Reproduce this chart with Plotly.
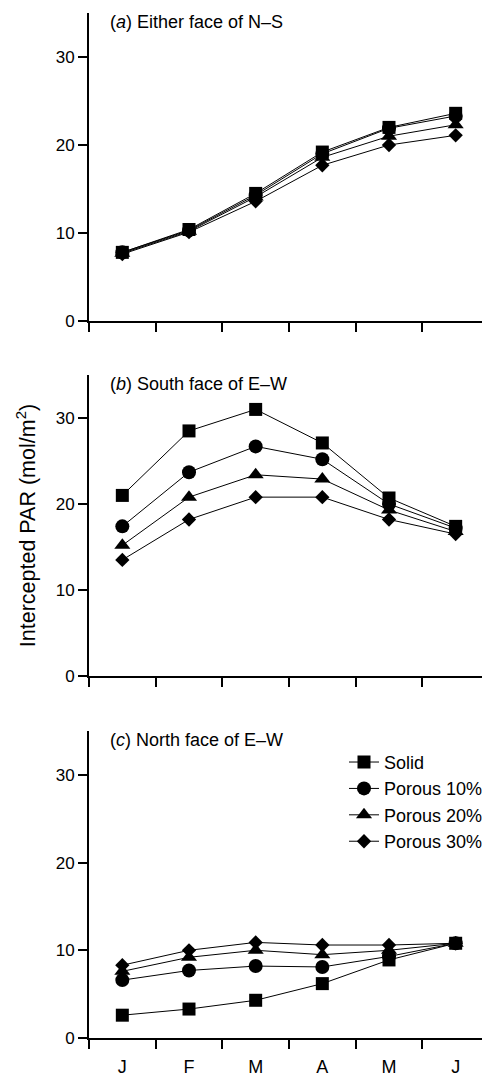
import plotly.graph_objects as go

months = ["J", "F", "M", "A", "M", "J"]
series_names = ["Solid", "Porous 10%", "Porous 20%", "Porous 30%"]
symbols = ["square", "circle", "triangle-up", "diamond"]

# Panel (a) Either face of N–S
a_solid = [7.8, 10.4, 14.5, 19.2, 22.0, 23.6]
a_p10 = [7.8, 10.3, 14.3, 19.0, 21.9, 23.3]
a_p20 = [7.7, 10.2, 14.1, 18.6, 21.0, 22.3]
a_p30 = [7.6, 10.1, 13.6, 17.7, 20.0, 21.1]

# Panel (b) South face of E–W
b_solid = [21.0, 28.5, 31.0, 27.1, 20.7, 17.4]
b_p10 = [17.4, 23.7, 26.7, 25.2, 20.0, 17.2]
b_p20 = [15.2, 20.8, 23.4, 22.9, 19.3, 16.8]
b_p30 = [13.5, 18.2, 20.8, 20.8, 18.2, 16.5]

# Panel (c) North face of E–W
c_solid = [2.6, 3.3, 4.3, 6.2, 8.9, 10.8]
c_p10 = [6.6, 7.7, 8.2, 8.1, 9.3, 10.8]
c_p20 = [7.6, 9.2, 10.0, 9.5, 10.0, 10.8]
c_p30 = [8.3, 10.0, 10.9, 10.6, 10.6, 10.8]

panels = [
    ("(<i>a</i>) Either face of N–S", [a_solid, a_p10, a_p20, a_p30]),
    ("(<i>b</i>) South face of E–W", [b_solid, b_p10, b_p20, b_p30]),
    ("(<i>c</i>) North face of E–W", [c_solid, c_p10, c_p20, c_p30]),
]

xpos = [i + 0.5 for i in range(len(months))]
domains = [[0.6995, 1.0], [0.3532, 0.6468], [0.0, 0.2995]]
msizes = [13, 14, 14, 11]

FONT = "Liberation Sans, Arial, Helvetica, sans-serif"
fig = go.Figure()

for p, (title, data) in enumerate(panels):
    xa = "x" if p == 0 else f"x{p+1}"
    ya = "y" if p == 0 else f"y{p+1}"
    for s, vals in enumerate(data):
        fig.add_trace(go.Scatter(
            x=xpos, y=vals, xaxis=xa, yaxis=ya, mode="lines+markers",
            name=series_names[s], showlegend=(p == 2),
            line=dict(color="black", width=1),
            marker=dict(symbol=symbols[s], size=msizes[s], color="black"),
        ))
    xkey = "xaxis" if p == 0 else f"xaxis{p+1}"
    ykey = "yaxis" if p == 0 else f"yaxis{p+1}"
    fig.layout[xkey] = dict(
        domain=[0, 1], anchor=ya, range=[0, 6], automargin=False,
        tickvals=xpos, ticktext=months if p == 2 else [""] * 6,
        ticks="", showticklabels=(p == 2), ticklabelstandoff=11,
        showline=True, linecolor="black", linewidth=2, showgrid=False, zeroline=False,
        minor=dict(tickvals=list(range(7)), ticks="outside", ticklen=9, tickwidth=2,
                   tickcolor="black", showgrid=False),
        tickfont=dict(size=18, color="black", family=FONT),
    )
    fig.layout[ykey] = dict(
        domain=domains[p], anchor=xa, range=[0, 35], automargin=False,
        tickvals=[0, 10, 20, 30], ticks="outside", ticklen=9, tickwidth=2, tickcolor="black",
        ticklabelstandoff=0,
        showline=True, linecolor="black", linewidth=2, showgrid=False, zeroline=False,
        tickfont=dict(size=17, color="black", family=FONT),
    )
    fig.add_annotation(
        text=title, xref=f"{xa} domain", yref=f"{ya} domain", x=0.0475, y=0.97,
        xanchor="left", yanchor="middle", showarrow=False,
        font=dict(size=18, color="black", family=FONT),
    )

fig.layout["yaxis2"]["title"] = dict(
    text="Intercepted PAR (mol/m<sup>2</sup>)", standoff=14,
    font=dict(size=21.5, color="black", family=FONT),
)

# The page body adds an 8 px offset, so the figure is 8 px smaller in each direction.
fig.update_layout(
    width=482, height=1068,
    margin=dict(l=81, r=1, t=5, b=38, autoexpand=False),
    paper_bgcolor="white", plot_bgcolor="white",
    legend=dict(x=0.6375, y=0.287, xanchor="left", yanchor="top",
                font=dict(size=18, color="black", family=FONT),
                bgcolor="rgba(0,0,0,0)", itemclick=False),
    font=dict(family=FONT, color="black"),
)

fig.write_html("out.html")
